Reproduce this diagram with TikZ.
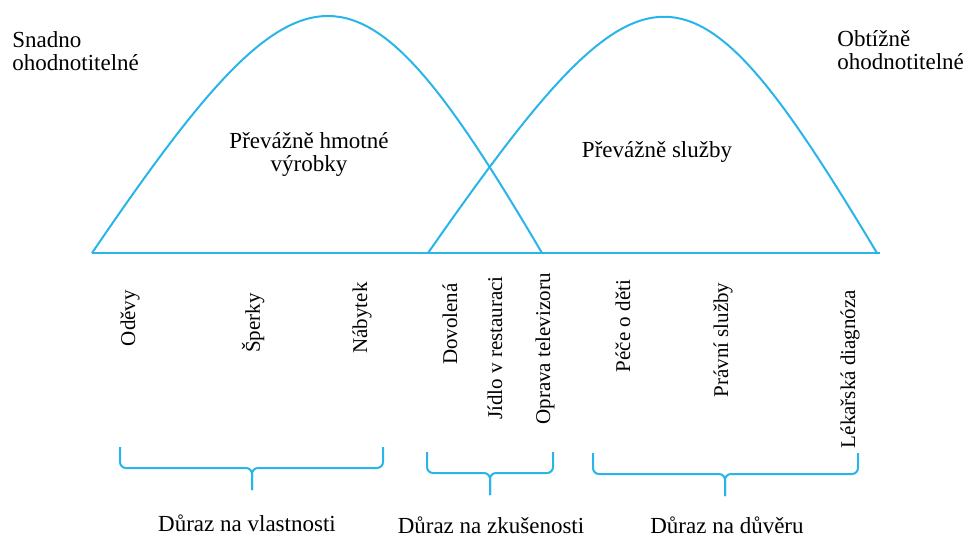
\documentclass[tikz,border=0pt]{standalone}
\usepackage{fontspec}
\setmainfont{Liberation Serif}
\usepackage{tikz}
\usetikzlibrary{positioning}
\definecolor{curveblue}{HTML}{29B4EA}
\newcommand{\groupbrace}[5]{
    \coordinate (#1l) at (#2,#4);
    \coordinate (#1r) at (#3,#4);
    \coordinate (#1m) at (#5,#4+21);
    \coordinate (#1t) at (#5,#4+43);
    \draw[bracepath] (#1l) |- (#1m) -- (#1t);
    \draw[bracepath] (#1r) |- (#1m) -- (#1t);
}

\begin{document}
\begin{tikzpicture}[x=0.5pt,y=-0.5pt,
    curve/.style={draw=curveblue,line width=1pt},
    bracepath/.style={draw=curveblue,line width=1pt,rounded corners=3pt},
    txt/.style={inner sep=0pt,font=\fontsize{11.5}{11.75}\selectfont},
    item/.style={inner sep=0pt,rotate=90,font=\fontsize{10.5}{11}\selectfont}]
    \useasboundingbox (0,0) rectangle (968,538);

    % axis and the two curves
    \coordinate (axl) at (92,253);
    \coordinate (axr) at (880,253);
    \coordinate (goodsl) at (92,253);
    \coordinate (goodsr) at (542,253);
    \coordinate (servl) at (428,253);
    \coordinate (servr) at (877,253);
    \draw[curve] (axl) -- (axr);
    \draw[curve] (goodsl) .. controls (307,-63) and (356,-63) .. (goodsr);
    \draw[curve] (servl) .. controls (648,-62) and (688,-62) .. (servr);

    \node[txt,align=left,anchor=north west] (easy) at (12,31) {Snadno\\ohodnotitelné};
    \node[txt,align=left,anchor=north west] (hard) at (837,30) {Obtížně\\ohodnotitelné};
    \node[txt,align=center,anchor=north] (goods) at (309,132) {Převážně hmotné\\výrobky};
    \node[txt,anchor=base] (serv) at (657,157) {Převážně služby};

    % examples
    \node[item] (odevy) at (130,318) {Oděvy};
    \node[item] (sperky) at (253,323) {Šperky};
    \node[item] (nabytek) at (362,318) {Nábytek};
    \node[item] (dovolena) at (450,324) {Dovolená};
    \node[item] (jidlo) at (495,348) {Jídlo v restauraci};
    \node[item] (oprava) at (545,349) {Oprava televizoru};
    \node[item] (pece) at (623,326) {Péče o děti};
    \node[item] (pravni) at (723,340) {Právní služby};
    \node[item] (lekar) at (850,369) {Lékařská diagnóza};

    % groups
    \groupbrace{vl}{120}{383}{447}{252}
    \groupbrace{zk}{427}{553}{452}{490}
    \groupbrace{du}{593}{858}{453}{725}
    \node[txt,anchor=base] (vltxt) at (247,531) {Důraz na vlastnosti};
    \node[txt,anchor=base] (zktxt) at (491,533) {Důraz na zkušenosti};
    \node[txt,anchor=base] (dutxt) at (727,533) {Důraz na důvěru};
\end{tikzpicture}
\end{document}
